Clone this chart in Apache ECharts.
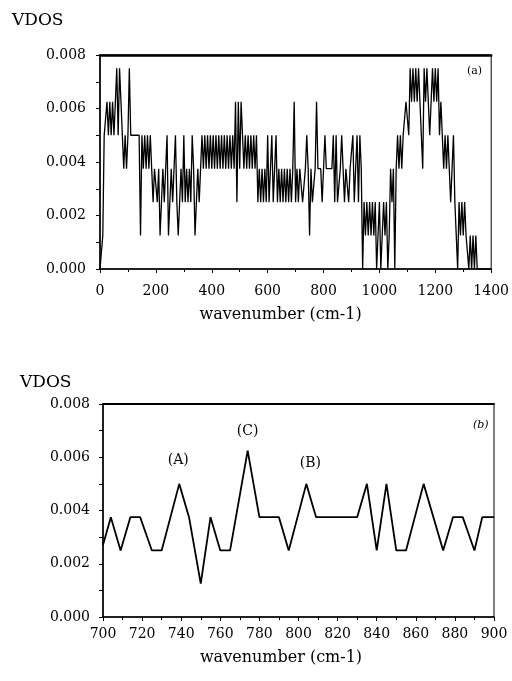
<!DOCTYPE html>
<html>
<head>
<meta charset="utf-8">
<title>VDOS</title>
<script src="https://cdn.jsdelivr.net/npm/echarts@6/dist/echarts.min.js"></script>
<style>
  html, body { margin: 0; padding: 0; background: #fff; }
  #chart { width: 512px; height: 681px; }
</style>
</head>
<body>
<div id="chart"></div>
<script>
// Full spectrum: 0–1400 cm-1, one VDOS value every 5 cm-1 (rows of 100 cm-1)
const fullStart = 0;
const fullStep = 5;
const fullVdos = [
  0, 0, 0.00125, 0.005, 0.005, 0.00625, 0.005, 0.00625, 0.005, 0.00625, 0.005, 0.00625, 0.0075, 0.005, 0.0075, 0.00625, 0.005, 0.00375, 0.005, 0.00375,
  0.005, 0.0075, 0.005, 0.005, 0.005, 0.005, 0.005, 0.005, 0.005, 0.00125, 0.005, 0.00375, 0.005, 0.00375, 0.005, 0.00375, 0.005, 0.00375, 0.0025, 0.00375,
  0.00375, 0.0025, 0.00375, 0.00125, 0.0025, 0.00375, 0.0025, 0.00375, 0.005, 0.00125, 0.0025, 0.00375, 0.0025, 0.00375, 0.005, 0.0025, 0.00125, 0.0025, 0.00375, 0.0025,
  0.005, 0.0025, 0.00375, 0.0025, 0.00375, 0.0025, 0.005, 0.00375, 0.00125, 0.0025, 0.00375, 0.0025, 0.00375, 0.005, 0.00375, 0.005, 0.00375, 0.005, 0.00375, 0.005,
  0.00375, 0.005, 0.00375, 0.005, 0.00375, 0.005, 0.00375, 0.005, 0.00375, 0.005, 0.00375, 0.005, 0.00375, 0.005, 0.00375, 0.005, 0.00375, 0.00625, 0.0025, 0.00625,
  0.00375, 0.00625, 0.005, 0.00375, 0.005, 0.00375, 0.005, 0.00375, 0.005, 0.00375, 0.005, 0.00375, 0.005, 0.0025, 0.00375, 0.0025, 0.00375, 0.0025, 0.00375, 0.0025,
  0.005, 0.0025, 0.00375, 0.005, 0.0025, 0.00375, 0.005, 0.0025, 0.00375, 0.0025, 0.00375, 0.0025, 0.00375, 0.0025, 0.00375, 0.0025, 0.00375, 0.0025, 0.00375, 0.00625,
  0.0025, 0.00375, 0.0025, 0.00375, 0.00375, 0.0025, 0.0025, 0.00375, 0.005, 0.00375, 0.00125, 0.00375, 0.0025, 0.0025, 0.00375, 0.00625, 0.00375, 0.00375, 0.00375, 0.0025,
  0.00375, 0.005, 0.00375, 0.00375, 0.00375, 0.00375, 0.00375, 0.005, 0.0025, 0.005, 0.0025, 0.0025, 0.00375, 0.005, 0.00375, 0.0025, 0.00375, 0.00375, 0.0025, 0.00375,
  0.00375, 0.005, 0.0025, 0.00375, 0.005, 0.0025, 0.005, 0.00375, 0, 0.0025, 0.00125, 0.0025, 0.00125, 0.0025, 0.00125, 0.0025, 0.00125, 0.0025, 0, 0.00125,
  0.0025, 0, 0.00125, 0.0025, 0.00125, 0.0025, 0, 0.00125, 0.00375, 0.0025, 0.00375, 0, 0.00375, 0.005, 0.00375, 0.005, 0.00375, 0.005, 0.005, 0.00625,
  0.00625, 0.005, 0.0075, 0.00625, 0.0075, 0.00625, 0.0075, 0.00625, 0.0075, 0.00625, 0.005, 0.00375, 0.0075, 0.00625, 0.0075, 0.00625, 0.005, 0.00625, 0.0075, 0.00625,
  0.0075, 0.00625, 0.0075, 0.005, 0.00625, 0.005, 0.00375, 0.005, 0.00375, 0.005, 0.00375, 0.0025, 0.00375, 0.005, 0.0025, 0.00125, 0, 0.0025, 0.00125, 0.0025,
  0.00125, 0.0025, 0.00125, 0.00125, 0, 0.00125, 0, 0.00125, 0, 0.00125, 0, 0, 0, 0, 0, 0, 0, 0, 0, 0,
  0
];

// Close-up window 700–900 cm-1
const zoomWavenumber = [700, 704, 709, 714, 719, 725, 730, 739, 744, 750, 755, 760, 765, 774, 780, 790,
                        795, 804, 809, 830, 835, 840, 845, 850, 855, 864, 874, 879, 884, 890, 894, 900];
const zoomVdos = [0.0027, 0.00375, 0.0025, 0.00375, 0.00375, 0.0025, 0.0025, 0.005, 0.00375, 0.00125, 0.00375, 0.0025, 0.0025, 0.00625, 0.00375, 0.00375,
                  0.0025, 0.005, 0.00375, 0.00375, 0.005, 0.0025, 0.005, 0.0025, 0.0025, 0.005, 0.0025, 0.00375, 0.00375, 0.0025, 0.00375, 0.00375];

// Peak annotations in the close-up (wavenumber of the peak)
const peakNames = ['(A)', '(C)', '(B)'];
const peakWavenumber = [739, 774, 804];
const peakOffsets = [[-1, -24], [0, -19], [4, -21]];

const FONT = '"DejaVu Serif", serif';

const fullData = fullVdos.map((v, i) => [fullStart + i * fullStep, v]);
const zoomData = zoomWavenumber.map((w, i) => [w, zoomVdos[i]]);
const peakMarks = peakNames.map((name, i) => {
  const idx = zoomWavenumber.indexOf(peakWavenumber[i]);
  return {
    name: name,
    coord: [zoomWavenumber[idx], zoomVdos[idx]],
    label: { offset: peakOffsets[i] }
  };
});

function bottomXAxis(gridIndex, min, max, interval, margin, gap, pad) {
  return {
    gridIndex, type: 'value', min, max, interval, position: 'bottom',
    axisLine: { onZero: false, lineStyle: { color: '#000', width: 1.5 } },
    axisTick: { show: true, length: 4, lineStyle: { color: '#000', width: 1 } },
    minorTick: { show: true, splitNumber: 2, length: 3, lineStyle: { color: '#000', width: 1 } },
    splitLine: { show: false },
    axisLabel: { color: '#000', fontFamily: FONT, fontSize: 14, margin, formatter: v => String(v) },
    name: 'wavenumber (cm-1)', nameLocation: 'middle', nameGap: gap,
    nameTextStyle: { color: '#000', fontFamily: FONT, fontSize: 16, padding: pad }
  };
}
function topBorderAxis(gridIndex, min, max, width) {
  return {
    gridIndex, type: 'value', min, max, position: 'top',
    axisLine: { onZero: false, lineStyle: { color: '#000', width } },
    axisTick: { show: false }, axisLabel: { show: false }, splitLine: { show: false }
  };
}
function vdosAxis(gridIndex, margin) {
  return {
    gridIndex, type: 'value', min: 0, max: 0.008, interval: 0.002,
    axisLine: { show: true, onZero: false, lineStyle: { color: '#000', width: 1.5 } },
    axisTick: { show: true, length: 4, lineStyle: { color: '#000', width: 1 } },
    minorTick: { show: true, splitNumber: 2, length: 4, lineStyle: { color: '#000', width: 1 } },
    splitLine: { show: false },
    axisLabel: { color: '#000', fontFamily: FONT, fontSize: 14, margin, formatter: v => v.toFixed(3) }
  };
}

const chart = echarts.init(document.getElementById('chart'), null, { renderer: 'canvas' });
chart.setOption({
  animation: false,
  backgroundColor: '#fff',
  grid: [
    { left: 100, right: 19, top: 55, height: 214, show: true, borderColor: '#000', borderWidth: 1, backgroundColor: 'transparent' },
    { left: 103, right: 18, top: 404, height: 213, show: true, borderColor: '#000', borderWidth: 1, backgroundColor: 'transparent' }
  ],
  xAxis: [
    bottomXAxis(0, 0, 1400, 200, 15, 38, [0, 30, 0, 0]),
    topBorderAxis(0, 0, 1400, 2.5),
    bottomXAxis(1, 700, 900, 20, 10, 33, [0, 35, 0, 0]),
    topBorderAxis(1, 700, 900, 2)
  ],
  yAxis: [vdosAxis(0, 14), vdosAxis(1, 13)],
  graphic: [
    { type: 'text', left: 12, top: 12, style: { text: 'VDOS', font: '17px ' + FONT, fill: '#000' } },
    { type: 'text', left: 20, top: 374, style: { text: 'VDOS', font: '17px ' + FONT, fill: '#000' } },
    { type: 'text', left: 467, top: 66, style: { text: '(a)', font: '11px ' + FONT, fill: '#000' } },
    { type: 'text', left: 473, top: 420, style: { text: '(b)', font: 'italic 11px ' + FONT, fill: '#000' } }
  ],
  series: [
    {
      type: 'line', xAxisIndex: 0, yAxisIndex: 0, data: fullData,
      symbol: 'none', lineStyle: { color: '#000', width: 1.3 }, clip: true
    },
    {
      type: 'line', xAxisIndex: 2, yAxisIndex: 1, data: zoomData,
      symbol: 'none', lineStyle: { color: '#000', width: 1.8 }, clip: true,
      markPoint: {
        symbol: 'circle', symbolSize: 1,
        itemStyle: { color: 'rgba(0,0,0,0)' },
        label: { show: true, position: 'inside', color: '#000', fontFamily: FONT, fontSize: 14, formatter: p => p.name },
        data: peakMarks
      }
    }
  ]
});
</script>
</body>
</html>
